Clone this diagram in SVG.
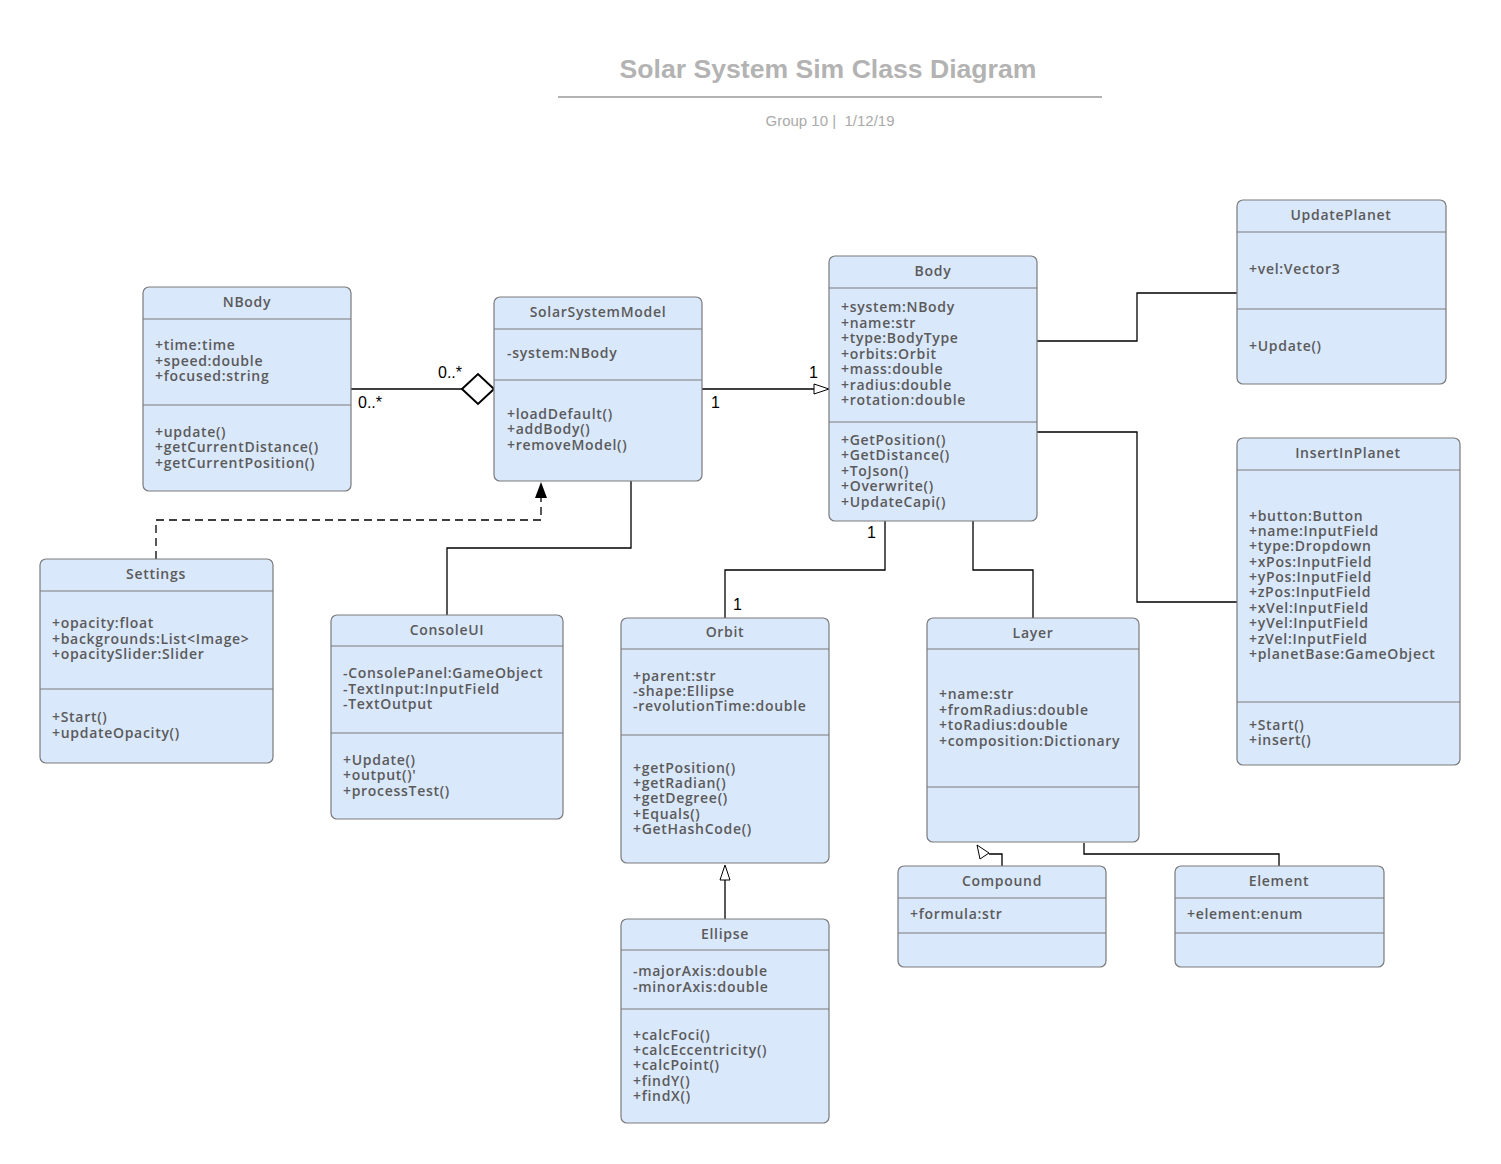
<svg xmlns="http://www.w3.org/2000/svg" width="1501" height="1164" viewBox="0 0 1501 1164">
<defs>
<style>
.box{fill:#dae8fc;stroke:#7a7a7a;stroke-width:1.2}
.sep{stroke:#7a7a7a;stroke-width:1.2}
.hd{font-family:"Open Sans","Noto Sans",sans-serif;font-size:14px;font-weight:600;fill:#5a5a5a;text-anchor:middle;letter-spacing:0.7px}
.tx{font-family:"Open Sans","Noto Sans",sans-serif;font-size:14px;font-weight:600;fill:#5a5a5a;letter-spacing:0.7px}
.ln{fill:none;stroke:#000;stroke-width:1.3}
.lb{font-family:"Liberation Sans",Arial,sans-serif;font-size:16px;fill:#000}
</style>
</defs>
<rect width="1501" height="1164" fill="#fff"/>
<g id="title">
<text x="828" y="78" font-family="Liberation Sans,Arial,sans-serif" font-size="26.6" font-weight="bold" fill="#b3b3b3" text-anchor="middle">Solar System Sim Class Diagram</text>
<line x1="558" y1="97" x2="1102" y2="97" stroke="#b3b3b3" stroke-width="2"/>
<text x="830" y="126" font-family="Liberation Sans,Arial,sans-serif" font-size="15" fill="#aaaaaa" text-anchor="middle" style="white-space:pre">Group 10 |  1/12/19</text>
</g>
<g id="connectors">
<polyline class="ln" points="351,389 462,389" stroke-width="2.2"/>
<polygon points="462,389 478,374 494,389 478,404" fill="#fff" stroke="#000" stroke-width="2"/>
<text class="lb" x="438" y="378">0..*</text>
<text class="lb" x="358" y="408">0..*</text>
<polyline class="ln" points="702,389 815,389"/>
<polygon points="829,389 814,384 814,394" fill="#fff" stroke="#000" stroke-width="1"/>
<text class="lb" x="711" y="408">1</text>
<text class="lb" x="809" y="378">1</text>
<polyline class="ln" points="156,559 156,520 541,520 541,497" stroke-dasharray="8,5"/>
<polygon points="541,482 535,498 547,498" fill="#000"/>
<polyline class="ln" points="447,615 447,548 631,548 631,481"/>
<polyline class="ln" points="1037,341 1137,341 1137,293 1237,293"/>
<polyline class="ln" points="1037,432 1137,432 1137,602 1237,602"/>
<polyline class="ln" points="885,521 885,570 725,570 725,618"/>
<text class="lb" x="867" y="538">1</text>
<text class="lb" x="733" y="610">1</text>
<polyline class="ln" points="973,521 973,570 1033,570 1033,618"/>
<polyline class="ln" points="725,919 725,880"/>
<polygon points="725,865 720,880 730,880" fill="#fff" stroke="#000" stroke-width="1"/>
<polyline class="ln" points="1002,866 1002,854 989,854"/>
<polygon points="977,845 980,859 989,853" fill="#fff" stroke="#000" stroke-width="1"/>
<polyline class="ln" points="1279,866 1279,854 1084,854 1084,843"/>
</g>
<g id="NBody">
<rect class="box" x="143" y="287" width="208" height="204" rx="6"/>
<line class="sep" x1="143" y1="319" x2="351" y2="319"/>
<line class="sep" x1="143" y1="405" x2="351" y2="405"/>
<text class="hd" x="247" y="307">NBody</text>
<text class="tx"><tspan x="155" y="350">+time:time</tspan><tspan x="155" y="366">+speed:double</tspan><tspan x="155" y="381">+focused:string</tspan></text>
<text class="tx"><tspan x="155" y="437">+update()</tspan><tspan x="155" y="452">+getCurrentDistance()</tspan><tspan x="155" y="468">+getCurrentPosition()</tspan></text>
</g>
<g id="SolarSystemModel">
<rect class="box" x="494" y="297" width="208" height="184" rx="6"/>
<line class="sep" x1="494" y1="329" x2="702" y2="329"/>
<line class="sep" x1="494" y1="380" x2="702" y2="380"/>
<text class="hd" x="598" y="317">SolarSystemModel</text>
<text class="tx" x="507" y="358">-system:NBody</text>
<text class="tx"><tspan x="507" y="419">+loadDefault()</tspan><tspan x="507" y="434">+addBody()</tspan><tspan x="507" y="450">+removeModel()</tspan></text>
</g>
<g id="Body">
<rect class="box" x="829" y="256" width="208" height="265" rx="6"/>
<line class="sep" x1="829" y1="288" x2="1037" y2="288"/>
<line class="sep" x1="829" y1="422" x2="1037" y2="422"/>
<text class="hd" x="933" y="276">Body</text>
<text class="tx"><tspan x="841" y="312">+system:NBody</tspan><tspan x="841" y="328">+name:str</tspan><tspan x="841" y="343">+type:BodyType</tspan><tspan x="841" y="359">+orbits:Orbit</tspan><tspan x="841" y="374">+mass:double</tspan><tspan x="841" y="390">+radius:double</tspan><tspan x="841" y="405">+rotation:double</tspan></text>
<text class="tx"><tspan x="841" y="445">+GetPosition()</tspan><tspan x="841" y="460">+GetDistance()</tspan><tspan x="841" y="476">+ToJson()</tspan><tspan x="841" y="491">+Overwrite()</tspan><tspan x="841" y="507">+UpdateCapi()</tspan></text>
</g>
<g id="UpdatePlanet">
<rect class="box" x="1237" y="200" width="209" height="184" rx="6"/>
<line class="sep" x1="1237" y1="232" x2="1446" y2="232"/>
<line class="sep" x1="1237" y1="309" x2="1446" y2="309"/>
<text class="hd" x="1341" y="220">UpdatePlanet</text>
<text class="tx" x="1249" y="274">+vel:Vector3</text>
<text class="tx" x="1249" y="351">+Update()</text>
</g>
<g id="InsertInPlanet">
<rect class="box" x="1237" y="438" width="223" height="327" rx="6"/>
<line class="sep" x1="1237" y1="470" x2="1460" y2="470"/>
<line class="sep" x1="1237" y1="702" x2="1460" y2="702"/>
<text class="hd" x="1348" y="458">InsertInPlanet</text>
<text class="tx"><tspan x="1249" y="521">+button:Button</tspan><tspan x="1249" y="536">+name:InputField</tspan><tspan x="1249" y="551">+type:Dropdown</tspan><tspan x="1249" y="567">+xPos:InputField</tspan><tspan x="1249" y="582">+yPos:InputField</tspan><tspan x="1249" y="597">+zPos:InputField</tspan><tspan x="1249" y="613">+xVel:InputField</tspan><tspan x="1249" y="628">+yVel:InputField</tspan><tspan x="1249" y="644">+zVel:InputField</tspan><tspan x="1249" y="659">+planetBase:GameObject</tspan></text>
<text class="tx"><tspan x="1249" y="730">+Start()</tspan><tspan x="1249" y="745">+insert()</tspan></text>
</g>
<g id="Settings">
<rect class="box" x="40" y="559" width="233" height="204" rx="6"/>
<line class="sep" x1="40" y1="591" x2="273" y2="591"/>
<line class="sep" x1="40" y1="689" x2="273" y2="689"/>
<text class="hd" x="156" y="579">Settings</text>
<text class="tx"><tspan x="52" y="628">+opacity:float</tspan><tspan x="52" y="644">+backgrounds:List&lt;Image&gt;</tspan><tspan x="52" y="659">+opacitySlider:Slider</tspan></text>
<text class="tx"><tspan x="52" y="722">+Start()</tspan><tspan x="52" y="738">+updateOpacity()</tspan></text>
</g>
<g id="ConsoleUI">
<rect class="box" x="331" y="615" width="232" height="204" rx="6"/>
<line class="sep" x1="331" y1="646" x2="563" y2="646"/>
<line class="sep" x1="331" y1="733" x2="563" y2="733"/>
<text class="hd" x="447" y="635">ConsoleUI</text>
<text class="tx"><tspan x="343" y="678">-ConsolePanel:GameObject</tspan><tspan x="343" y="694">-TextInput:InputField</tspan><tspan x="343" y="709">-TextOutput</tspan></text>
<text class="tx"><tspan x="343" y="765">+Update()</tspan><tspan x="343" y="780">+output()'</tspan><tspan x="343" y="796">+processTest()</tspan></text>
</g>
<g id="Orbit">
<rect class="box" x="621" y="618" width="208" height="245" rx="6"/>
<line class="sep" x1="621" y1="649" x2="829" y2="649"/>
<line class="sep" x1="621" y1="735" x2="829" y2="735"/>
<text class="hd" x="725" y="637">Orbit</text>
<text class="tx"><tspan x="633" y="681">+parent:str</tspan><tspan x="633" y="696">-shape:Ellipse</tspan><tspan x="633" y="711">-revolutionTime:double</tspan></text>
<text class="tx"><tspan x="633" y="773">+getPosition()</tspan><tspan x="633" y="788">+getRadian()</tspan><tspan x="633" y="803">+getDegree()</tspan><tspan x="633" y="819">+Equals()</tspan><tspan x="633" y="834">+GetHashCode()</tspan></text>
</g>
<g id="Layer">
<rect class="box" x="927" y="618" width="212" height="224" rx="6"/>
<line class="sep" x1="927" y1="649" x2="1139" y2="649"/>
<line class="sep" x1="927" y1="787" x2="1139" y2="787"/>
<text class="hd" x="1033" y="638">Layer</text>
<text class="tx"><tspan x="939" y="699">+name:str</tspan><tspan x="939" y="715">+fromRadius:double</tspan><tspan x="939" y="730">+toRadius:double</tspan><tspan x="939" y="746">+composition:Dictionary</tspan></text>
</g>
<g id="Ellipse">
<rect class="box" x="621" y="919" width="208" height="204" rx="6"/>
<line class="sep" x1="621" y1="950" x2="829" y2="950"/>
<line class="sep" x1="621" y1="1009" x2="829" y2="1009"/>
<text class="hd" x="725" y="939">Ellipse</text>
<text class="tx"><tspan x="633" y="976">-majorAxis:double</tspan><tspan x="633" y="992">-minorAxis:double</tspan></text>
<text class="tx"><tspan x="633" y="1040">+calcFoci()</tspan><tspan x="633" y="1055">+calcEccentricity()</tspan><tspan x="633" y="1070">+calcPoint()</tspan><tspan x="633" y="1086">+findY()</tspan><tspan x="633" y="1101">+findX()</tspan></text>
</g>
<g id="Compound">
<rect class="box" x="898" y="866" width="208" height="101" rx="6"/>
<line class="sep" x1="898" y1="898" x2="1106" y2="898"/>
<line class="sep" x1="898" y1="933" x2="1106" y2="933"/>
<text class="hd" x="1002" y="886">Compound</text>
<text class="tx" x="910" y="919">+formula:str</text>
</g>
<g id="Element">
<rect class="box" x="1175" y="866" width="209" height="101" rx="6"/>
<line class="sep" x1="1175" y1="898" x2="1384" y2="898"/>
<line class="sep" x1="1175" y1="933" x2="1384" y2="933"/>
<text class="hd" x="1279" y="886">Element</text>
<text class="tx" x="1187" y="919">+element:enum</text>
</g>
</svg>
